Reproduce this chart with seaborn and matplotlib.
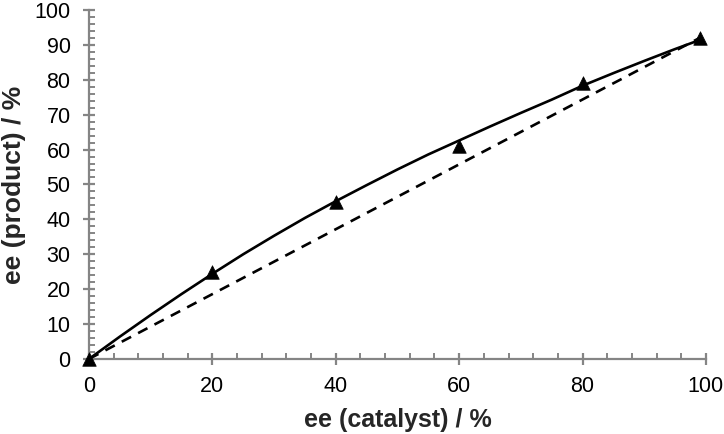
import matplotlib
matplotlib.use("Agg")
import matplotlib.pyplot as plt
import seaborn as sns
from matplotlib.ticker import MultipleLocator

# data points (triangles)
ee_catalyst = [0, 20, 40, 60, 80, 99]
ee_product = [0, 25, 45, 61, 79, 92]

# solid fitted curve
curve_x = [0, 5, 10, 15, 20, 25, 30, 35, 40, 45, 50, 55, 60, 65, 70, 75, 80, 85, 90, 95, 99]
curve_y = [0, 6.4, 12.6, 18.6, 24.4, 30.0, 35.3, 40.4, 45.2, 49.8, 54.3, 58.6,
           62.6, 66.6, 70.5, 74.3, 78.3, 81.9, 85.4, 88.8, 91.4]

# dashed linear reference
lin_x = [0, 99]
lin_y = [0, 92]

sns.set_theme(style="white")
plt.rcParams['font.family'] = ['Liberation Sans', 'DejaVu Sans']

fig = plt.figure(figsize=(7.24, 4.34), dpi=100)
ax = fig.add_axes([0.123, 0.173, 0.852, 0.804])

sns.lineplot(x=lin_x, y=lin_y, ax=ax, color='black', linewidth=1.9,
             linestyle=(0, (4, 3)), zorder=2)
sns.lineplot(x=curve_x, y=curve_y, ax=ax, color='black', linewidth=1.9, zorder=3)
sns.scatterplot(x=ee_catalyst, y=ee_product, ax=ax, marker='^', color='black',
                s=95, edgecolor='black', linewidth=0.5, zorder=4, clip_on=False)

ax.set_xlim(0, 100)
ax.set_ylim(0, 100)
ax.xaxis.set_major_locator(MultipleLocator(20))
ax.xaxis.set_minor_locator(MultipleLocator(4))
ax.yaxis.set_major_locator(MultipleLocator(10))
ax.yaxis.set_minor_locator(MultipleLocator(2))

gray = '#858585'
for side in ['top', 'right']:
    ax.spines[side].set_visible(False)
for side in ['left', 'bottom']:
    ax.spines[side].set_color(gray)
    ax.spines[side].set_linewidth(1.6)

ax.tick_params(which='major', direction='inout', length=8.6, width=1.6, color=gray,
               labelsize=15.5, labelcolor='black',
               bottom=True, left=True)
ax.tick_params(which='minor', direction='in', length=4, width=1.4, color=gray,
               bottom=True, left=True)
ax.tick_params(axis='x', which='major', pad=8)
ax.tick_params(axis='y', which='major', pad=9)

ax.set_xlabel('ee (catalyst) / %', fontsize=18, fontweight='bold', labelpad=8)
ax.set_ylabel('ee (product) / %', fontsize=19, fontweight='bold', labelpad=6)

fig.savefig('out.png', dpi=100)
